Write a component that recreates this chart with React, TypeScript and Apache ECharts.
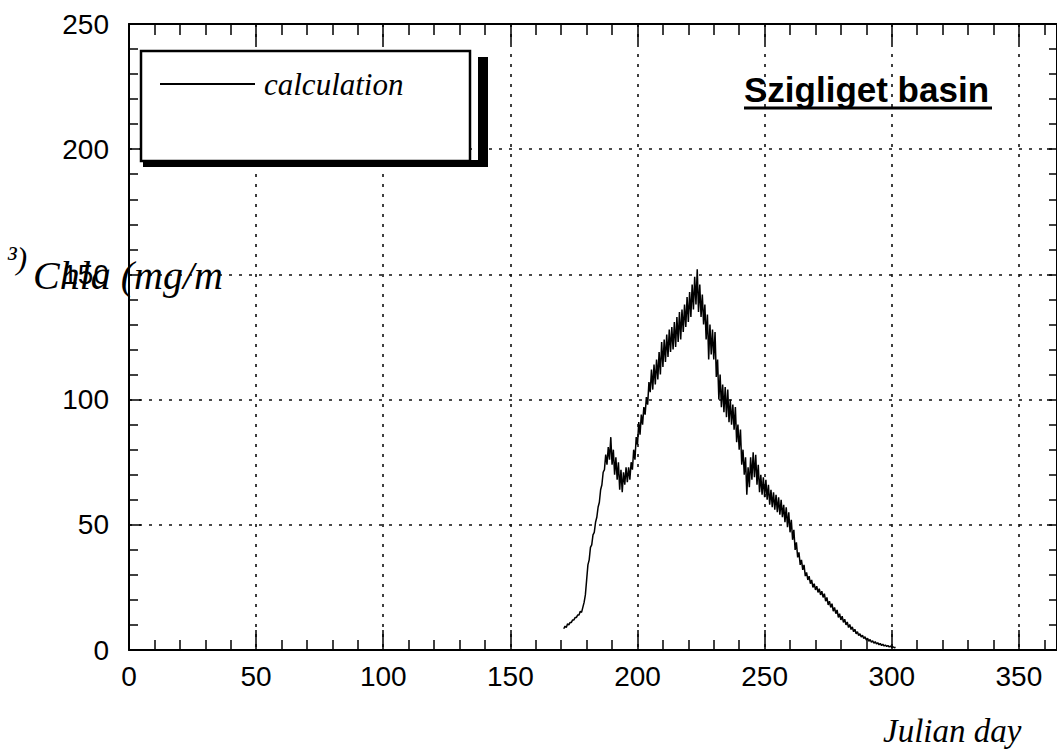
import React, { useEffect, useRef } from "react";
import * as echarts from "echarts";

// Modelled chlorophyll-a, daily envelope of the sub-daily calculation
const firstDay = 171;
const dailyLow = [
  8.5, 9, 10, 11, 12, 13, 14, 15, 19, 28,
  36, 42, 47, 53, 59, 66, 72, 74, 76, 74,
  70, 68, 64, 63, 66, 67, 68, 72, 76, 82,
  86, 90, 94, 98, 103, 104, 106, 108, 110, 113,
  115, 117, 119, 120, 121, 123, 124, 127, 129, 131,
  133, 136, 138, 135, 133, 130, 124, 116, 118, 116,
  109, 100, 97, 95, 93, 91, 90, 88, 83, 80,
  74, 70, 62, 65, 68, 69, 66, 63, 62, 61,
  60, 58, 57, 56, 55, 54, 53, 51, 49, 47,
  44, 40, 37, 34, 32, 29.5, 28, 26.5, 25, 24,
  23, 22, 21, 19.5, 18, 17, 15.5, 14.5, 13, 12,
  11, 10, 9, 8.2, 7.3, 6.5, 5.8, 5.2, 4.6, 4,
  3.5, 3.1, 2.7, 2.4, 2.1, 1.8, 1.6, 1.4, 1.2, 1.0,
  0.9,
];
const dailyHigh = [
  9.5, 10.5, 11, 12, 13, 14, 15.5, 17, 22, 34,
  41, 46, 51, 57, 64, 71, 78, 81, 85, 80,
  77, 75, 72, 71, 73, 73, 75, 80, 85, 91,
  94, 97, 101, 107, 112, 114, 116, 119, 123, 124,
  126, 128, 129, 131, 133, 135, 136, 138, 141, 143,
  146, 149, 152, 146, 142, 138, 134, 130, 128, 127,
  116, 110, 106, 105, 104, 100, 98, 97, 90, 88,
  80, 77, 73, 77, 79, 78, 74, 70, 69, 68,
  66, 64, 63, 62, 61, 60, 58, 57, 55, 52,
  48, 43, 39, 36, 34, 31, 29.5, 28, 26.5, 25.5,
  24.5, 23.5, 22.5, 21, 19.5, 18.5, 17, 16, 14.5, 13.5,
  12.3, 11.2, 10.2, 9.2, 8.3, 7.3, 6.5, 5.9, 5.3, 4.7,
  4.2, 3.7, 3.3, 2.9, 2.6, 2.3, 2.0, 1.8, 1.6, 1.3,
  1.1,
];

const xTicks = [0, 50, 100, 150, 200, 250, 300, 350];
const yTicks = [0, 50, 100, 150, 200, 250];

const seriesName = "calculation";
const basinTitle = "Szigliget basin";
const xName = "Julian day";
const yNameMain = "Chla (mg/m";
const yNameTail = "³)";

const tickFont = '"Liberation Sans", Arial, sans-serif';
const serifFont = '"Liberation Serif", "Times New Roman", serif';

function buildSeries(): number[][] {
  const pts: number[][] = [];
  for (let i = 0; i < dailyLow.length; i++) {
    const d = firstDay + i;
    pts.push([d, dailyLow[i]]);
    pts.push([d + 0.5, dailyHigh[i]]);
  }
  return pts;
}

const gridLine = {
  show: true,
  lineStyle: { color: "#111", width: 1.6, type: [3, 7] as number[] },
};

const tickStyle = { color: "#000", width: 1.5 };

export default function App() {
  const ref = useRef<HTMLDivElement>(null);

  useEffect(() => {
    if (!ref.current) return;
    const chart = echarts.init(ref.current, null, { renderer: "svg" });

    const xMin = xTicks[0];
    const xMax = 365;
    const yMin = yTicks[0];
    const yMax = yTicks[yTicks.length - 1];

    const axisLine = { show: true, onZero: false, lineStyle: { color: "#000", width: 2 } };

    chart.setOption({
      animation: false,
      backgroundColor: "#fff",
      grid: { left: 129, top: 24, width: 931, height: 626, containLabel: false },
      xAxis: [
        {
          type: "value",
          position: "bottom",
          min: xMin,
          max: xMax,
          interval: 50,
          axisLine,
          axisTick: { show: true, inside: true, length: 20, lineStyle: tickStyle },
          minorTick: { show: true, splitNumber: 5, length: 10, lineStyle: tickStyle },
          splitLine: gridLine,
          axisLabel: {
            show: true,
            margin: 12,
            color: "#000",
            fontSize: 28,
            fontFamily: tickFont,
            showMaxLabel: false,
            formatter: (v: number) => (xTicks.includes(v) ? String(v) : ""),
          },
        },
        {
          type: "value",
          position: "top",
          min: xMin,
          max: xMax,
          interval: 50,
          axisLine,
          axisTick: { show: true, inside: true, length: 20, lineStyle: tickStyle },
          minorTick: { show: true, splitNumber: 5, length: 11, lineStyle: tickStyle },
          splitLine: { show: false },
          axisLabel: { show: false },
        },
      ],
      yAxis: [
        {
          type: "value",
          position: "left",
          min: yMin,
          max: yMax,
          interval: 50,
          axisLine,
          axisTick: { show: true, inside: true, length: 12, lineStyle: tickStyle },
          minorTick: { show: true, splitNumber: 5, length: 9, lineStyle: tickStyle },
          splitLine: gridLine,
          axisLabel: {
            show: true,
            margin: 20,
            color: "#000",
            fontSize: 28,
            fontFamily: tickFont,
          },
        },
        {
          type: "value",
          position: "right",
          min: yMin,
          max: yMax,
          interval: 50,
          axisLine,
          axisTick: { show: true, inside: true, length: 10, lineStyle: tickStyle },
          minorTick: { show: true, splitNumber: 5, length: 8, lineStyle: tickStyle },
          splitLine: { show: false },
          axisLabel: { show: false },
        },
      ],
      series: [
        {
          name: seriesName,
          type: "line",
          xAxisIndex: 0,
          yAxisIndex: 0,
          showSymbol: false,
          symbol: "none",
          lineStyle: { color: "#000", width: 1.5 },
          data: buildSeries(),
          z: 5,
        },
      ],
      graphic: [
        // legend box with drop shadow
        {
          type: "rect",
          z: 100,
          shape: { x: 143, y: 160, width: 345, height: 7 },
          style: { fill: "#000" },
        },
        {
          type: "rect",
          z: 100,
          shape: { x: 478, y: 57, width: 10, height: 110 },
          style: { fill: "#000" },
        },
        {
          type: "rect",
          z: 101,
          shape: { x: 141, y: 51, width: 329, height: 110 },
          style: { fill: "#fff", stroke: "#000", lineWidth: 2.5 },
        },
        {
          type: "line",
          z: 102,
          shape: { x1: 160, y1: 84, x2: 255, y2: 84 },
          style: { stroke: "#000", lineWidth: 2 },
        },
        {
          type: "text",
          z: 102,
          x: 264,
          y: 84,
          style: {
            text: seriesName,
            font: `italic 31px ${serifFont}`,
            fill: "#000",
            verticalAlign: "middle",
          },
        },
        // basin title, underlined
        {
          type: "text",
          z: 102,
          x: 744,
          y: 89,
          style: {
            text: basinTitle,
            font: `bold 35px ${tickFont}`,
            fill: "#000",
            verticalAlign: "middle",
          },
        },
        {
          type: "line",
          z: 102,
          shape: { x1: 744, y1: 108, x2: 992, y2: 108 },
          style: { stroke: "#000", lineWidth: 3 },
        },
        // axis names
        {
          type: "text",
          z: 102,
          x: 883,
          y: 731,
          style: {
            text: xName,
            font: `italic 33px ${serifFont}`,
            fill: "#000",
            verticalAlign: "middle",
          },
        },
        {
          type: "text",
          z: 102,
          x: 33,
          y: 275,
          style: {
            text: yNameMain,
            font: `italic 40px ${serifFont}`,
            fill: "#000",
            verticalAlign: "middle",
          },
        },
        {
          type: "text",
          z: 102,
          x: 7,
          y: 258,
          style: {
            text: yNameTail,
            font: `italic 32px ${serifFont}`,
            fill: "#000",
            verticalAlign: "middle",
          },
        },
      ],
    });

    return () => chart.dispose();
  }, []);

  return (
    <div
      ref={ref}
      style={{ position: "absolute", left: 0, top: 0, width: 1057, height: 751, background: "#fff" }}
    />
  );
}
